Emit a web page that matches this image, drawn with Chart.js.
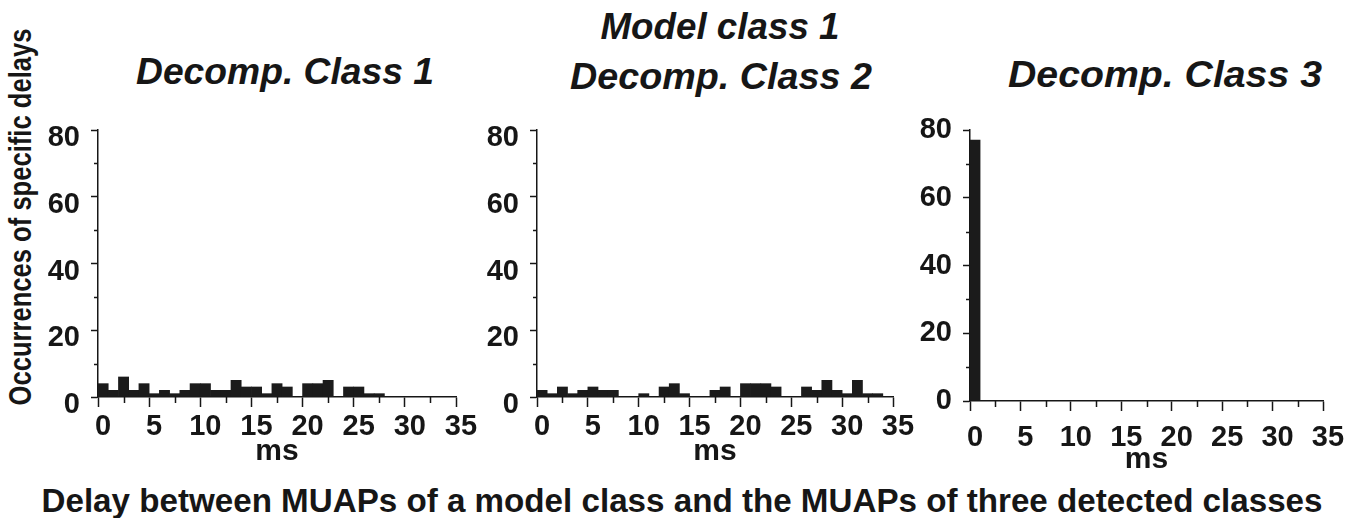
<!DOCTYPE html>
<html>
<head>
<meta charset="utf-8">
<script src="https://cdn.jsdelivr.net/npm/chart.js@4.4.1/dist/chart.umd.min.js"></script>
<style>
  html, body { margin: 0; padding: 0; background: #fff; }
  body { width: 1369px; height: 518px; overflow: hidden; position: relative;
         font-family: "Liberation Sans", Arial, sans-serif; color: #161616; }
  canvas { position: absolute; }
  .t { position: absolute; font-weight: bold; line-height: 1; white-space: nowrap;
       text-align: center; transform-origin: 50% 50%; }
  .t.i { font-style: italic; }
</style>
</head>
<body>

<div class="t i" data-w="239" style="left:320px;width:800px;top:8px;font-size:37px;"><span>Model class 1</span></div>
<div class="t i" data-w="298" style="left:-115px;width:800px;top:53px;font-size:37px;"><span>Decomp. Class 1</span></div>
<div class="t i" data-w="302" style="left:321px;width:800px;top:58px;font-size:37px;"><span>Decomp. Class 2</span></div>
<div class="t i" data-w="314" style="left:765px;width:800px;top:56px;font-size:37px;"><span>Decomp. Class 3</span></div>
<div class="t" data-w="1281" style="left:-118px;width:1600px;top:484px;font-size:33px;"><span>Delay between MUAPs of a model class and the MUAPs of three detected classes</span></div>
<div class="t" id="ytitle" data-w="377" data-rot="1" style="left:-230px;width:500px;top:201px;font-size:32px;"><span>Occurrences of specific delays</span></div>

<canvas id="chart1" width="448" height="370" style="left:38px;top:100px;"></canvas>
<canvas id="chart2" width="446" height="370" style="left:477px;top:100px;"></canvas>
<canvas id="chart3" width="443" height="378" style="left:910px;top:100px;"></canvas>

<script>
// delay bins (ms, bin start), 1 ms wide
const delayBins = [0, 1, 2, 3, 4, 5, 6, 7, 8, 9, 10, 11, 12, 13, 14, 15, 16, 17,
                   18, 19, 20, 21, 22, 23, 24, 25, 26, 27, 28, 29, 30, 31, 32, 33, 34];

// occurrences per bin
const class1Counts = [4, 2, 6, 2, 4, 1, 2, 1, 2, 4, 4, 2, 2, 5, 3, 3, 1, 4,
                      3, 0, 4, 4, 5, 0, 3, 3, 1, 1, 0, 0, 0, 0, 0, 0, 0];
const class2Counts = [2, 1, 3, 1, 2, 3, 2, 2, 0, 0, 1, 0, 3, 4, 1, 0, 0, 2,
                      3, 0, 4, 4, 4, 3, 0, 0, 3, 2, 5, 2, 1, 5, 1, 1, 0];
const class3Counts = [77, 0, 0, 0, 0, 0, 0, 0, 0, 0, 0, 0, 0, 0, 0, 0, 0, 0,
                      0, 0, 0, 0, 0, 0, 0, 0, 0, 0, 0, 0, 0, 0, 0, 0, 0];

const xMinorTicks = [2.5, 7.5, 12.5, 17.5, 22.5, 27.5, 32.5];
const yMinorTicks = [10, 30, 50, 70];

const ink = '#161616';
const fontFamily = "'Liberation Sans', Arial, sans-serif";

// stretch the title texts to the width they have in the figure
document.querySelectorAll('.t').forEach(el => {
    const w = el.querySelector('span').getBoundingClientRect().width;
    const s = parseFloat(el.dataset.w) / w;
    el.style.transform = el.dataset.rot ? `rotate(-90deg) scaleX(${s})` : `scaleX(${s})`;
});

// short ticks between the labelled ones
const minorTicks = {
    id: 'minorTicks',
    afterDraw(chart) {
        const { ctx, scales: { x, y } } = chart;
        ctx.save();
        ctx.strokeStyle = ink;
        ctx.lineWidth = 1.5;
        ctx.beginPath();
        xMinorTicks.forEach(v => {
            const px = Math.round(x.getPixelForValue(v)) + 0.5;
            ctx.moveTo(px, y.bottom);
            ctx.lineTo(px, y.bottom + 6);
        });
        yMinorTicks.forEach(v => {
            const py = Math.round(y.getPixelForValue(v)) + 0.5;
            ctx.moveTo(x.left, py);
            ctx.lineTo(x.left - 4, py);
        });
        ctx.stroke();
        ctx.restore();
    }
};

function renderHistogram(canvasId, counts, xLabelPad, xAxisHeight, yLabelShift) {
    const ctx = document.getElementById(canvasId).getContext('2d');
    new Chart(ctx, {
        type: 'bar',
        data: {
            datasets: [{
                data: delayBins.map((b, i) => ({ x: b + 0.5, y: counts[i] })),
                backgroundColor: '#1b1b1b',
                borderWidth: 0,
                barPercentage: 1,
                categoryPercentage: 1
            }]
        },
        options: {
            responsive: false,
            animation: false,
            events: [],
            layout: { padding: { top: 30, left: 0, right: 30, bottom: 0 } },
            plugins: { legend: { display: false }, tooltip: { enabled: false } },
            scales: {
                x: {
                    type: 'linear',
                    min: 0,
                    max: 35,
                    offset: false,
                    grid: { drawOnChartArea: false, offset: false, tickLength: 10, color: ink, tickWidth: 1.5 },
                    border: { color: ink, width: 1.5 },
                    ticks: {
                        stepSize: 5,
                        autoSkip: false,
                        maxRotation: 0,
                        padding: xLabelPad,
                        labelOffset: 5,
                        color: ink,
                        font: { family: fontFamily, size: 29, weight: 'bold' }
                    },
                    title: {
                        display: true,
                        text: 'ms',
                        color: ink,
                        padding: { top: 0, bottom: 0 },
                        font: { family: fontFamily, size: 30, weight: 'bold' }
                    },
                    afterFit: scale => { scale.height = xAxisHeight; }
                },
                y: {
                    min: 0,
                    max: 80,
                    grid: { drawOnChartArea: false, tickLength: 7, color: ink, tickWidth: 1.5 },
                    border: { color: ink, width: 1.5 },
                    ticks: {
                        stepSize: 20,
                        padding: 11,
                        labelOffset: yLabelShift,
                        color: ink,
                        font: { family: fontFamily, size: 29, weight: 'bold' }
                    },
                    afterFit: scale => { scale.width = 60; }
                }
            }
        },
        plugins: [minorTicks]
    });
}

renderHistogram('chart1', class1Counts, 3, 73, 8);
renderHistogram('chart2', class2Counts, 3, 73, 8);
renderHistogram('chart3', class3Counts, 10, 77, 0);
</script>
</body>
</html>
